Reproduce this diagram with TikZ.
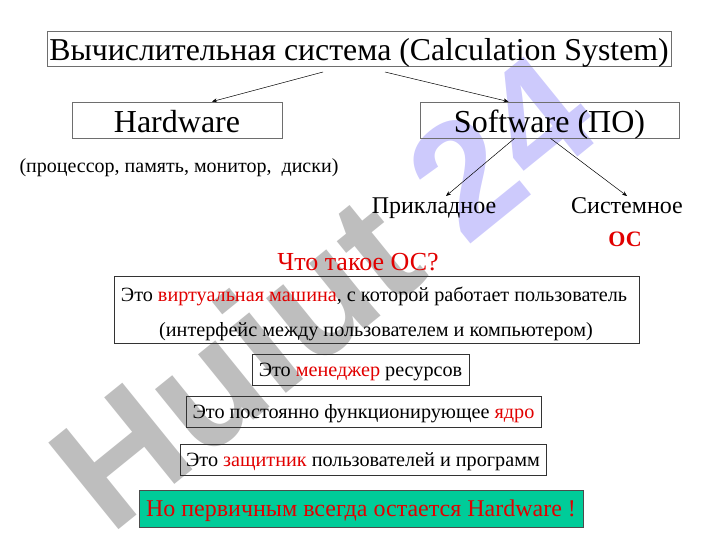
\documentclass[tikz,border=0pt]{standalone}
\usepackage{fontspec}
\setmainfont{Liberation Serif}
\newfontfamily\wmfont{Liberation Sans}
\usetikzlibrary{arrows.meta,calc}
\definecolor{ttred}{RGB}{225,0,0}
\definecolor{boxgrey}{RGB}{110,110,110}
\definecolor{wmgrey}{RGB}{190,190,190}
\definecolor{wmpurple}{RGB}{205,202,252}
\definecolor{okgreen}{RGB}{0,204,153}
\newcommand{\fs}[1]{\fontsize{#1}{#1}\selectfont}
\tikzset{
  topbox/.style={draw=boxgrey, line width=0.8pt, inner sep=0pt, text height=28pt, text depth=2pt},
  infobox/.style={draw=black!80, line width=0.6pt, inner sep=0pt, font=\fs{20.2},
    text height=17pt, text depth=4pt},
  plain/.style={inner sep=0pt, anchor=base},
  conn/.style={-{Stealth[length=5pt,width=4pt]}, line width=0.5pt, black},
}
\begin{document}
\begin{tikzpicture}[x=1pt,y=-1pt]
\useasboundingbox (0,0) rectangle (720,540);
% watermark
\node[rotate=39, inner sep=0pt, font=\wmfont\bfseries\fs{162}] (wm) at (322,290)
  {\textcolor{wmgrey}{Huiut} \textcolor{wmpurple}{24}};
% top level
\node[topbox, minimum width=624pt, minimum height=35pt, font=\fs{31.8},
  text height=27pt, text depth=2pt] (title) at (359,48.5)
  {Вычислительная система (Calculation System)};
\node[topbox, minimum width=210pt, minimum height=36pt, font=\fs{32}] (hw) at (177,120) {Hardware};
\node[topbox, minimum width=259pt, minimum height=36pt, font=\fs{32}] (sw) at (549.5,120) {Software (ПО)};
\coordinate (s1) at (323,72);
\coordinate (s2) at (385,72);
\draw[conn] (s1) -- ($(hw.north)+(35,0)$);
\draw[conn] (s2) -- ($(sw.north)+(-41,0)$);
\node[plain, font=\fs{20}] (hwd) at (179,173) {(процессор, память, монитор,\ \ диски)};
\node[plain, font=\fs{24}] (app) at (434,214) {Прикладное};
\node[plain, font=\fs{24}] (sys) at (627,214) {Системное};
\draw[conn] ($(sw.south)+(-35,0)$) -- (446,196);
\draw[conn] ($(sw.south)+(1,0)$) -- (627,196);
\node[plain, font=\bfseries\fs{22}, text=ttred] (os) at (625,246) {ОС};
\node[plain, font=\fs{26}, text=ttred] (what) at (358,270) {Что такое ОС?};
% info boxes
\node[draw=black!80, line width=0.6pt, minimum width=525pt, minimum height=67pt] (b1) at (376.5,309.5) {};
\node[plain, font=\fs{20.2}] (b1a) at (374,301)
  {Это \textcolor{ttred}{виртуальная машина}, с которой работает пользователь};
\node[plain, font=\fs{20.2}] (b1b) at (376,336)
  {(интерфейс между пользователем и компьютером)};
\node[infobox, minimum width=217pt, minimum height=31pt] (b2) at (360.5,369.5)
  {Это \textcolor{ttred}{менеджер} ресурсов};
\node[infobox, minimum width=355pt, minimum height=31pt] (b3) at (363.5,411.5)
  {Это постоянно функционирующее \textcolor{ttred}{ядро}};
\node[infobox, minimum width=366pt, minimum height=31pt] (b4) at (363,459.5)
  {Это \textcolor{ttred}{защитник} пользователей и программ};
\node[draw=black!70, line width=0.6pt, fill=okgreen, inner sep=0pt, minimum width=444pt,
  minimum height=37pt, font=\fs{24}, text=ttred, text height=20pt, text depth=5pt] (b5) at (361,508.5)
  {Но первичным всегда остается Hardware !};
\end{tikzpicture}
\end{document}
